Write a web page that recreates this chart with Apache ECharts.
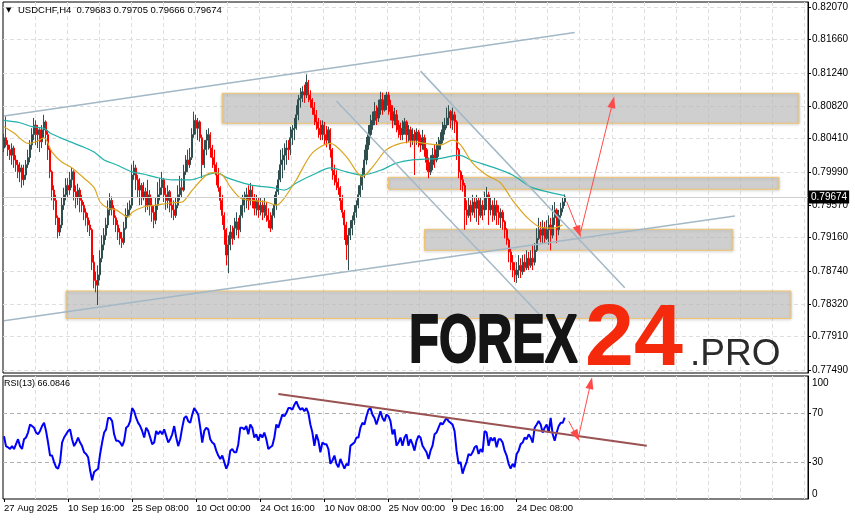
<!DOCTYPE html>
<html><head><meta charset="utf-8">
<script src="https://cdn.jsdelivr.net/npm/echarts@6/dist/echarts.min.js"></script>
<style>html,body{margin:0;padding:0;background:#fff}#c{width:855px;height:521px}</style>
</head><body><div id="c"></div>
<script>
const timeLabels = ['27 Aug 2025','10 Sep 16:00','25 Sep 08:00','10 Oct 00:00','24 Oct 16:00','10 Nov 08:00','25 Nov 00:00','9 Dec 16:00','24 Dec 08:00'];
const priceTicks = [0.82070,0.81660,0.81240,0.80820,0.80410,0.79990,0.79570,0.79160,0.78740,0.78320,0.77910,0.77490];
const rsiTicks = [0,30,70,100];
const headerQuote = [0.79683,0.79705,0.79666,0.79674];
const lastPrice = 0.79674;
const rsiLast = 66.0846;

const opens = [
0.8029,0.8042,0.8033,0.8027,0.8020,0.8029,0.8014,0.8008,0.7999,0.8004,
0.7989,0.7995,0.8008,0.8017,0.8033,0.8046,0.8058,0.8046,0.8052,0.8037,
0.8052,0.8062,0.8046,0.8027,0.7999,0.7976,0.7963,0.7941,0.7923,0.7932,
0.7957,0.7970,0.7982,0.7976,0.7989,0.7999,0.7974,0.7966,0.7976,0.7963,
0.7957,0.7948,0.7941,0.7932,0.7926,0.7885,0.7862,0.7856,0.7869,0.7890,
0.7907,0.7919,0.7932,0.7951,0.7963,0.7953,0.7941,0.7932,0.7923,0.7915,
0.7910,0.7928,0.7944,0.7951,0.7957,0.7995,0.8004,0.7989,0.7976,0.7982,
0.7966,0.7974,0.7957,0.7970,0.7957,0.7948,0.7938,0.7957,0.7970,0.7979,
0.7989,0.7970,0.7963,0.7974,0.7957,0.7951,0.7944,0.7957,0.7970,0.7979,
0.7976,0.7999,0.8014,0.8008,0.8017,0.8046,0.8064,0.8054,0.8062,0.8042,
0.8008,0.8027,0.8039,0.8046,0.8029,0.8017,0.8008,0.7995,0.7979,0.7963,
0.7944,0.7926,0.7894,0.7907,0.7923,0.7915,0.7928,0.7936,0.7926,0.7944,
0.7957,0.7966,0.7970,0.7963,0.7976,0.7966,0.7953,0.7963,0.7951,0.7957,
0.7948,0.7957,0.7944,0.7938,0.7928,0.7944,0.7957,0.7974,0.7989,0.8008,
0.8014,0.8020,0.8029,0.8027,0.8042,0.8052,0.8054,0.8071,0.8090,0.8092,
0.8100,0.8096,0.8112,0.8096,0.8090,0.8080,0.8071,0.8062,0.8054,0.8046,
0.8058,0.8046,0.8039,0.8052,0.8027,0.8001,0.7995,0.7986,0.7979,0.7963,
0.7948,0.7932,0.7907,0.7919,0.7928,0.7938,0.7948,0.7957,0.7970,0.7982,
0.7995,0.8014,0.8033,0.8046,0.8058,0.8064,0.8075,0.8067,0.8080,0.8090,
0.8077,0.8087,0.8096,0.8083,0.8075,0.8064,0.8071,0.8058,0.8052,0.8046,
0.8054,0.8062,0.8046,0.8052,0.8039,0.8046,0.8039,0.8049,0.8039,0.8033,
0.8042,0.8027,0.8011,0.7999,0.8008,0.8020,0.8014,0.8027,0.8033,0.8039,
0.8052,0.8058,0.8067,0.8075,0.8064,0.8071,0.8062,0.8027,0.7999,0.7989,
0.7982,0.7951,0.7944,0.7957,0.7948,0.7961,0.7953,0.7963,0.7944,0.7957,
0.7951,0.7966,0.7970,0.7951,0.7957,0.7944,0.7957,0.7948,0.7941,0.7948,
0.7936,0.7926,0.7913,0.7898,0.7885,0.7875,0.7869,0.7875,0.7881,0.7873,
0.7885,0.7878,0.7890,0.7881,0.7890,0.7885,0.7900,0.7915,0.7926,0.7919,
0.7928,0.7915,0.7926,0.7932,0.7919,0.7941,0.7951,0.7926,0.7944,0.7953,0.7961];

const closes = [
0.8042,0.8033,0.8027,0.8020,0.8029,0.8014,0.8008,0.7999,0.8004,0.7989,
0.7995,0.8008,0.8017,0.8033,0.8046,0.8058,0.8046,0.8052,0.8037,0.8052,
0.8062,0.8046,0.8027,0.7999,0.7976,0.7963,0.7941,0.7923,0.7932,0.7957,
0.7970,0.7982,0.7976,0.7989,0.7999,0.7974,0.7966,0.7976,0.7963,0.7957,
0.7948,0.7941,0.7932,0.7926,0.7885,0.7862,0.7856,0.7869,0.7890,0.7907,
0.7919,0.7932,0.7951,0.7963,0.7953,0.7941,0.7932,0.7923,0.7915,0.7910,
0.7928,0.7944,0.7951,0.7957,0.7995,0.8004,0.7989,0.7976,0.7982,0.7966,
0.7974,0.7957,0.7970,0.7957,0.7948,0.7938,0.7957,0.7970,0.7979,0.7989,
0.7970,0.7963,0.7974,0.7957,0.7951,0.7944,0.7957,0.7970,0.7979,0.7976,
0.7999,0.8014,0.8008,0.8017,0.8046,0.8064,0.8054,0.8062,0.8042,0.8008,
0.8027,0.8039,0.8046,0.8029,0.8017,0.8008,0.7995,0.7979,0.7963,0.7944,
0.7926,0.7894,0.7907,0.7923,0.7915,0.7928,0.7936,0.7926,0.7944,0.7957,
0.7966,0.7970,0.7963,0.7976,0.7966,0.7953,0.7963,0.7951,0.7957,0.7948,
0.7957,0.7944,0.7938,0.7928,0.7944,0.7957,0.7974,0.7989,0.8008,0.8014,
0.8020,0.8029,0.8027,0.8042,0.8052,0.8054,0.8071,0.8090,0.8092,0.8100,
0.8096,0.8112,0.8096,0.8090,0.8080,0.8071,0.8062,0.8054,0.8046,0.8058,
0.8046,0.8039,0.8052,0.8027,0.8001,0.7995,0.7986,0.7979,0.7963,0.7948,
0.7932,0.7907,0.7919,0.7928,0.7938,0.7948,0.7957,0.7970,0.7982,0.7995,
0.8014,0.8033,0.8046,0.8058,0.8064,0.8075,0.8067,0.8080,0.8090,0.8077,
0.8087,0.8096,0.8083,0.8075,0.8064,0.8071,0.8058,0.8052,0.8046,0.8054,
0.8062,0.8046,0.8052,0.8039,0.8046,0.8039,0.8049,0.8039,0.8033,0.8042,
0.8027,0.8011,0.7999,0.8008,0.8020,0.8014,0.8027,0.8033,0.8039,0.8052,
0.8058,0.8067,0.8075,0.8064,0.8071,0.8062,0.8027,0.7999,0.7989,0.7982,
0.7951,0.7944,0.7957,0.7948,0.7961,0.7953,0.7963,0.7944,0.7957,0.7951,
0.7966,0.7970,0.7951,0.7957,0.7944,0.7957,0.7948,0.7941,0.7948,0.7936,
0.7926,0.7913,0.7898,0.7885,0.7875,0.7869,0.7875,0.7881,0.7873,0.7885,
0.7878,0.7890,0.7881,0.7890,0.7885,0.7900,0.7915,0.7926,0.7919,0.7928,
0.7915,0.7926,0.7932,0.7919,0.7941,0.7951,0.7926,0.7944,0.7953,0.7961,0.79674];

const highs = [
0.8047,0.8069,0.8039,0.8033,0.8035,0.8032,0.8020,0.8014,0.8011,0.8008,
0.8008,0.8014,0.8027,0.8039,0.8054,0.8067,0.8064,0.8058,0.8054,0.8058,
0.8071,0.8064,0.8052,0.8029,0.8001,0.7982,0.7970,0.7944,0.7941,0.7966,
0.7979,0.7991,0.7991,0.7999,0.8004,0.8001,0.7982,0.7984,0.7979,0.7970,
0.7961,0.7953,0.7947,0.7938,0.7928,0.7894,0.7873,0.7881,0.7900,0.7919,
0.7928,0.7941,0.7963,0.7972,0.7968,0.7957,0.7944,0.7938,0.7928,0.7923,
0.7936,0.7953,0.7960,0.7963,0.8008,0.8013,0.8008,0.7995,0.7991,0.7985,
0.7986,0.7979,0.7989,0.7976,0.7966,0.7957,0.7966,0.7986,0.7991,0.7999,
0.7991,0.7979,0.7982,0.7976,0.7966,0.7963,0.7966,0.7982,0.7994,0.7991,
0.8008,0.8020,0.8027,0.8029,0.8054,0.8075,0.8071,0.8067,0.8064,0.8046,
0.8039,0.8052,0.8054,0.8049,0.8033,0.8027,0.8011,0.8004,0.7981,0.7970,
0.7948,0.7928,0.7919,0.7932,0.7931,0.7941,0.7948,0.7941,0.7957,0.7970,
0.7974,0.7979,0.7982,0.7985,0.7981,0.7971,0.7970,0.7966,0.7966,0.7963,
0.7966,0.7961,0.7953,0.7948,0.7953,0.7970,0.7982,0.8001,0.8027,0.8029,
0.8035,0.8039,0.8039,0.8056,0.8058,0.8067,0.8083,0.8096,0.8105,0.8107,
0.8109,0.8122,0.8115,0.8102,0.8092,0.8087,0.8077,0.8067,0.8064,0.8064,
0.8062,0.8057,0.8056,0.8054,0.8029,0.8008,0.8001,0.7991,0.7981,0.7970,
0.7951,0.7936,0.7928,0.7938,0.7944,0.7957,0.7963,0.7982,0.7995,0.8004,
0.8027,0.8043,0.8058,0.8071,0.8075,0.8087,0.8083,0.8090,0.8100,0.8099,
0.8096,0.8100,0.8100,0.8090,0.8083,0.8080,0.8077,0.8064,0.8061,0.8064,
0.8067,0.8064,0.8058,0.8056,0.8054,0.8052,0.8054,0.8052,0.8046,0.8052,
0.8046,0.8029,0.8017,0.8020,0.8029,0.8033,0.8037,0.8043,0.8049,0.8062,
0.8067,0.8080,0.8083,0.8077,0.8080,0.8075,0.8064,0.8029,0.8001,0.7995,
0.7985,0.7963,0.7966,0.7963,0.7970,0.7966,0.7970,0.7966,0.7966,0.7963,
0.7974,0.7980,0.7974,0.7966,0.7963,0.7966,0.7963,0.7957,0.7953,0.7951,
0.7938,0.7928,0.7915,0.7903,0.7894,0.7885,0.7885,0.7894,0.7890,0.7894,
0.7895,0.7900,0.7898,0.7900,0.7907,0.7909,0.7928,0.7941,0.7936,0.7938,
0.7936,0.7938,0.7944,0.7941,0.7957,0.7961,0.7953,0.7951,0.7960,0.7966,0.79705];

const lows = [
0.8024,0.8030,0.8019,0.8014,0.8008,0.8004,0.7999,0.7991,0.7986,0.7979,
0.7982,0.7989,0.8004,0.8011,0.8027,0.8039,0.8033,0.8029,0.8024,0.8029,
0.8042,0.8033,0.8014,0.7991,0.7963,0.7951,0.7932,0.7915,0.7918,0.7928,
0.7951,0.7963,0.7966,0.7970,0.7979,0.7963,0.7953,0.7957,0.7948,0.7948,
0.7938,0.7931,0.7923,0.7918,0.7875,0.7852,0.7847,0.7831,0.7862,0.7885,
0.7900,0.7913,0.7928,0.7944,0.7944,0.7932,0.7923,0.7913,0.7907,0.7903,
0.7907,0.7926,0.7941,0.7944,0.7953,0.7989,0.7976,0.7966,0.7957,0.7957,
0.7963,0.7948,0.7951,0.7944,0.7936,0.7928,0.7933,0.7951,0.7963,0.7970,
0.7961,0.7951,0.7953,0.7948,0.7941,0.7938,0.7941,0.7953,0.7963,0.7966,
0.7974,0.7995,0.7999,0.8004,0.8014,0.8042,0.8046,0.8039,0.8037,0.7991,
0.8004,0.8020,0.8027,0.8017,0.8004,0.7999,0.7982,0.7974,0.7951,0.7932,
0.7907,0.7881,0.7871,0.7900,0.7907,0.7913,0.7919,0.7915,0.7923,0.7941,
0.7948,0.7953,0.7951,0.7957,0.7953,0.7944,0.7944,0.7941,0.7944,0.7938,
0.7941,0.7936,0.7928,0.7923,0.7926,0.7941,0.7951,0.7970,0.7986,0.7991,
0.8001,0.8008,0.8014,0.8020,0.8033,0.8039,0.8052,0.8064,0.8080,0.8087,
0.8086,0.8092,0.8087,0.8080,0.8071,0.8058,0.8052,0.8042,0.8039,0.8039,
0.8033,0.8030,0.8035,0.8017,0.7989,0.7982,0.7976,0.7970,0.7951,0.7941,
0.7913,0.7888,0.7875,0.7913,0.7919,0.7932,0.7941,0.7953,0.7966,0.7976,
0.7991,0.8008,0.8027,0.8042,0.8052,0.8058,0.8058,0.8062,0.8071,0.8071,
0.8075,0.8077,0.8071,0.8064,0.8054,0.8058,0.8049,0.8042,0.8039,0.8039,
0.8046,0.8035,0.8037,0.8030,0.8033,0.7995,0.8033,0.8030,0.8024,0.8027,
0.8018,0.8001,0.7991,0.7995,0.8001,0.8004,0.8011,0.8018,0.8027,0.8035,
0.8046,0.8054,0.8058,0.8054,0.8052,0.8048,0.8014,0.7991,0.7976,0.7974,
0.7926,0.7932,0.7941,0.7936,0.7944,0.7941,0.7936,0.7932,0.7941,0.7938,
0.7944,0.7951,0.7932,0.7944,0.7936,0.7938,0.7932,0.7932,0.7928,0.7926,
0.7915,0.7907,0.7885,0.7875,0.7866,0.7860,0.7859,0.7865,0.7865,0.7869,
0.7873,0.7875,0.7875,0.7878,0.7875,0.7881,0.7898,0.7913,0.7910,0.7909,
0.7909,0.7913,0.7907,0.7900,0.7915,0.7932,0.7909,0.7919,0.7941,0.7948,0.7956];

const rsi = [
51,43,42,40.6,43,40.6,44.6,48.6,43,40.6,
48.6,50,54,60.6,59.3,58,54,52.6,55.3,59.3,
61.9,55.3,45.9,35.3,35.3,30,25.9,24.6,30,45.9,
50,52.6,55.3,56.6,48.6,43,45.9,50,45.9,43,
38,36.6,34,23.3,15.2,22,23.3,24.6,36.6,45.9,
54,56.6,65.9,65.9,63.3,52.6,47.3,47.3,45.9,43,
47.3,58,59.3,63.3,73.9,71.3,65.9,61.9,59.3,55.3,
50,58,55.3,50,44.6,45.9,55.3,52.6,55.3,52.6,
56.6,51.3,45.9,48.6,52.6,59.3,50,43,48.6,58,
65.9,67.3,63.3,61.9,68.6,73.9,71.3,68.6,58,45.9,
55.3,58,56.6,48.6,45.9,44.6,39.3,35.3,32.6,35.3,
30,24.6,28.6,39.3,40.6,38,38,44.6,58,58,
56.6,59.3,52.6,60.6,58,50,52.6,47.3,52.6,50,
54,48.6,40.6,42,43.3,50,60.6,58,63.3,68.6,
67.3,69.9,73.9,73.9,72.6,76.6,79.3,75.3,72.6,73.9,
71.3,73.9,69.9,60.6,54,43.3,52.6,47.3,38,45.9,
44.6,44.6,40.6,28.6,31.3,35.3,28.6,25.9,32.6,28.6,
24.6,28.6,27.3,43.3,44.6,45.9,50,50,58,61.9,
60.6,67.3,72.6,73.9,68.6,65.9,60.6,65.9,71.3,65.9,
63.3,68.6,67.3,63.3,52.6,56.6,43.3,45.9,50,43.3,
50,52.6,43.3,48.6,44.6,39.3,47.3,51.3,50,43.3,
40.6,38,32.6,39.3,43.3,52.6,54,58,61.9,60.6,
63.3,65.9,63.3,61.9,60.6,55.3,39.3,28.6,30,20.6,
25.9,30,36.6,35.3,38,42,43.3,36.6,40.6,38,
55.3,54,43.3,50,47.3,50,42,48.6,48.6,45.9,
39.3,35.3,28.6,24.6,28.6,25.9,36.6,39.3,44.6,45.9,
50,48.6,52.6,50,45.9,58,60.6,63.3,60.6,54,
58,60.6,54,65.9,52.6,47.3,54,59.3,61.9,61.9,66.1];

// moving averages read at sample bars: [bar slot, value]
const maSlow = [[0,0.8064],[8,0.8061],[14,0.8056],[20,0.8054],[23,0.8048],[31,0.8039],[40,0.8030],[45,0.8024],[50,0.8014],[56,0.8008],[64,0.7999],[70,0.7996],[76,0.7992],[84,0.7989],[93,0.7989],[101,0.7995],[106,0.7998],[111,0.7992],[118,0.7986],[124,0.7982],[134,0.7979],[140,0.7976],[146,0.7985],[154,0.7995],[163,0.8004],[171,0.7999],[179,0.7995],[188,0.8001],[196,0.8010],[204,0.8014],[210,0.8015],[218,0.8016],[227,0.8020],[234,0.8013],[244,0.8005],[254,0.7995],[263,0.7980],[271,0.7974],[280,0.7969]];
const maFast = [[0,0.8056],[5,0.8048],[12,0.8035],[16,0.8037],[20,0.8042],[24,0.8024],[29,0.8011],[34,0.8004],[40,0.7991],[45,0.7979],[48,0.7961],[52,0.7953],[56,0.7951],[62,0.7942],[64,0.7948],[70,0.7955],[76,0.7957],[84,0.7960],[89,0.7961],[94,0.7976],[101,0.7995],[104,0.7998],[109,0.7995],[113,0.7980],[118,0.7966],[124,0.7963],[131,0.7961],[136,0.7957],[140,0.7966],[146,0.7989],[154,0.8023],[163,0.8035],[171,0.8018],[179,0.7993],[184,0.8005],[191,0.8027],[198,0.8035],[204,0.8037],[210,0.8035],[218,0.8033],[224,0.8039],[228,0.8033],[234,0.8010],[241,0.7995],[248,0.7985],[254,0.7963],[261,0.7942],[268,0.7929],[274,0.7928],[279,0.7932]];

// annotations: [slotStart, priceTop, slotEnd, priceBottom]
const zones = [[109,0.80981,397,0.80603],[192,0.79921,387,0.79770],[210,0.79265,364,0.79000],[31,0.78487,393,0.78140]];
const trendLines = [[[0,0.80694],[285,0.81748]],[[0,0.78110],[365,0.79434]],[[208,0.81261],[310,0.78527]],[[166,0.80884],[268,0.78174]]];
const priceArrows = [[[281,0.79614],[287,0.79235]],[[288,0.79235],[304,0.80871]]];
const rsiTrend = [[137,85.4],[321,43.3]];
const rsiArrows = [[[282,63.4],[286,51.2]],[[287,51.2],[293,94.3]]];

const NSLOT = 402;
const cats = Array.from({length: NSLOT}, (_, i) => String(i));
const candleRows = closes.map((c, i) => [opens[i], c, lows[i], highs[i]]);
const FONT = '"Liberation Sans", Arial, sans-serif';
const lblInt = (i) => i % 32 === 0 && (i / 32) < timeLabels.length;
const vGrid = (i) => i > 0 && i % 16 === 0;

const chart = echarts.init(document.getElementById('c'), null, {renderer: 'canvas'});
const gridLineV = {show: true, interval: vGrid, lineStyle: {color: '#dedede', type: [4, 3], width: 1}};

const series = [
  {type: 'line', xAxisIndex: 0, yAxisIndex: 0, data: [], z: 1, silent: true,
   markLine: {silent: true, symbol: ['none', 'none'], animation: false, precision: 5,
     data: [{yAxis: lastPrice}],
     lineStyle: {color: '#cfcfcf', width: 1, type: 'solid'},
     label: {show: true, position: 'end', formatter: () => lastPrice.toFixed(5), color: '#fff', backgroundColor: '#000',
             padding: [2, 2, 1, 2], fontSize: 10, fontFamily: FONT, distance: 1}}},
  {type: 'candlestick', xAxisIndex: 0, yAxisIndex: 0, data: candleRows, barWidth: 1.6, z: 2,
   itemStyle: {color: '#2f4f4f', color0: '#ff0000', borderColor: '#2f4f4f', borderColor0: '#ff0000', borderWidth: 1}},
  {type: 'line', xAxisIndex: 0, yAxisIndex: 0, data: maSlow, symbol: 'none', smooth: 0.3, z: 3,
   lineStyle: {color: '#20b2aa', width: 1.2}},
  {type: 'line', xAxisIndex: 0, yAxisIndex: 0, data: maFast, symbol: 'none', smooth: 0.3, z: 3,
   lineStyle: {color: '#daa520', width: 1.2}},
  {type: 'line', xAxisIndex: 0, yAxisIndex: 0, data: [], z: 5, silent: true,
   markArea: {silent: true,
     itemStyle: {color: 'rgba(200,200,200,0.6)', borderColor: '#f0c470', borderWidth: 1,
                 shadowBlur: 3, shadowColor: 'rgba(0,0,0,0.25)', shadowOffsetY: 1},
     data: zones.map(z => [{coord: [z[0], z[1]]}, {coord: [z[2], z[3]]}])}}
];
trendLines.forEach(t => series.push({type: 'line', xAxisIndex: 0, yAxisIndex: 0, data: t, symbol: 'none', z: 6,
  lineStyle: {color: '#a3b8c6', width: 1.5}}));
series.push({type: 'line', xAxisIndex: 0, yAxisIndex: 0, data: [], z: 7, silent: true,
  markLine: {silent: true, symbol: ['none', 'triangle'], symbolSize: [8, 12], animation: false, precision: 5,
    lineStyle: {color: '#ff4a4a', width: 1, type: 'solid'}, label: {show: false},
    itemStyle: {color: '#ff4a4a'},
    data: priceArrows.map(a => [{coord: a[0]}, {coord: a[1]}])}});
series.push({type: 'line', xAxisIndex: 1, yAxisIndex: 1, data: rsi, symbol: 'none', z: 3,
  lineStyle: {color: '#0000ff', width: 2}});
series.push({type: 'line', xAxisIndex: 1, yAxisIndex: 1, data: rsiTrend, symbol: 'none', z: 4,
  lineStyle: {color: '#9a5252', width: 2}});
series.push({type: 'line', xAxisIndex: 1, yAxisIndex: 1, data: [], z: 7, silent: true,
  markLine: {silent: true, symbol: ['none', 'triangle'], symbolSize: [8, 12], animation: false,
    lineStyle: {color: '#ff4a4a', width: 1, type: 'solid'}, label: {show: false},
    itemStyle: {color: '#ff4a4a'},
    data: rsiArrows.map(a => [{coord: a[0]}, {coord: a[1]}])}});

const option = {
  animation: false,
  backgroundColor: '#ffffff',
  grid: [
    {left: 3, right: 47, top: 2, height: 371, show: true, borderColor: '#000', borderWidth: 1, backgroundColor: '#fff'},
    {left: 3, right: 47, top: 376, height: 123, show: true, borderColor: '#000', borderWidth: 1, backgroundColor: '#fff'}
  ],
  xAxis: [
    {type: 'category', gridIndex: 0, data: cats, boundaryGap: true,
     axisLine: {show: false}, axisTick: {show: false}, axisLabel: {show: false}, splitLine: gridLineV},
    {type: 'category', gridIndex: 1, data: cats, boundaryGap: true,
     axisLine: {show: false},
     axisTick: {show: true, alignWithLabel: true, interval: lblInt, length: 3, lineStyle: {color: '#000'}},
     axisLabel: {interval: lblInt, formatter: (v, i) => timeLabels[i / 32] || '', align: 'left', margin: 4,
                 fontSize: 9.5, fontFamily: FONT, color: '#000'},
     splitLine: gridLineV}
  ],
  yAxis: [
    {type: 'value', gridIndex: 0, position: 'right', min: 0.774521, max: 0.821331,
     axisLine: {show: true, lineStyle: {color: '#000'}},
     axisTick: {show: true, length: 3, customValues: priceTicks, lineStyle: {color: '#000'}},
     axisLabel: {customValues: priceTicks, formatter: v => v.toFixed(5), fontSize: 10, fontFamily: FONT, color: '#000', margin: 4},
     splitLine: {show: true, lineStyle: {color: '#dedede', type: [4, 3], width: 1}}},
    {type: 'value', gridIndex: 1, position: 'right', min: 0, max: 100,
     axisLine: {show: true, lineStyle: {color: '#000'}},
     axisTick: {show: true, length: 3, customValues: [30, 70], lineStyle: {color: '#000'}},
     axisLabel: {customValues: rsiTicks, fontSize: 10, fontFamily: FONT, color: '#000', margin: 4,
       formatter: v => v === 100 ? '{t|100}' : (v === 0 ? '{b|0}' : String(v)),
       rich: {t: {padding: [14, 0, 0, 0], fontSize: 10, fontFamily: FONT, color: '#000'},
              b: {padding: [0, 0, 10, 0], fontSize: 10, fontFamily: FONT, color: '#000'}}},
     splitLine: {show: true, lineStyle: {color: '#b0b0b0', type: [4, 3], width: 1}}}
  ],
  graphic: [
    {type: 'text', x: 6, y: 10, z: 100, style: {text: '\u25BC', fill: '#000', font: '7px "DejaVu Sans"', verticalAlign: 'middle'}},
    {type: 'text', x: 18, y: 10, z: 100, style: {text: 'USDCHF,H4  ' + headerQuote.map(v => v.toFixed(5)).join(' '),
      fill: '#000', font: '9.5px ' + FONT, verticalAlign: 'middle'}},
    {type: 'text', x: 4, y: 384, z: 100, style: {text: 'RSI(13) ' + rsiLast.toFixed(4), fill: '#000', font: '9px ' + FONT, verticalAlign: 'middle'}},
    {type: 'text', x: 409, y: 343, z: 100, scaleX: 0.72, style: {text: 'FOREX', fill: '#151515', stroke: '#151515', lineWidth: 2,
      font: 'bold 68px ' + FONT, verticalAlign: 'middle'}},
    {type: 'text', x: 585, y: 341, z: 100, style: {text: '24', fill: '#f5290c', font: 'bold 88px ' + FONT, verticalAlign: 'middle'}},
    {type: 'text', x: 690, y: 355, z: 100, style: {text: '.PRO', fill: '#2a2a2a', font: '37px ' + FONT, verticalAlign: 'middle'}}
  ],
  series: series
};
chart.setOption(option);
</script>
</body></html>
